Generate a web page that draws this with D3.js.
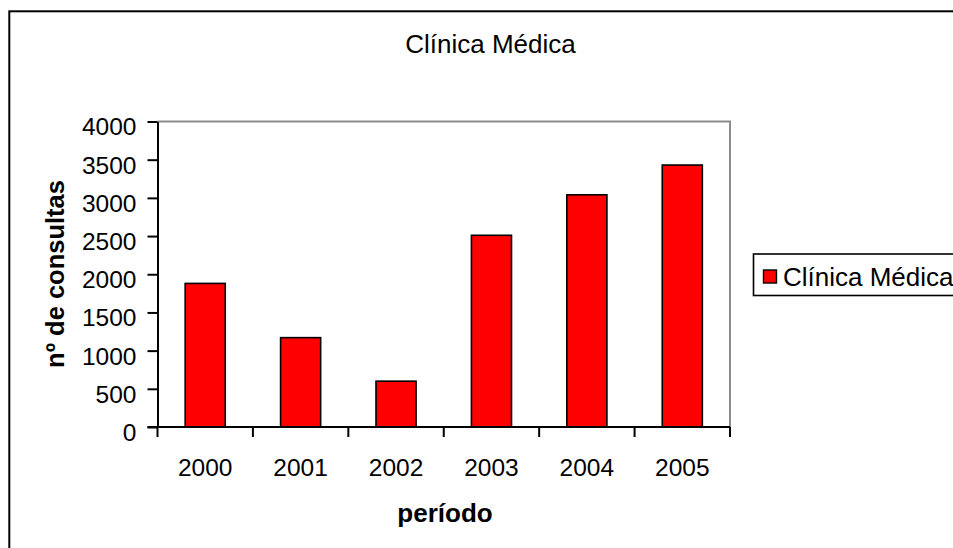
<!DOCTYPE html>
<html>
<head>
<meta charset="utf-8">
<script src="https://cdn.jsdelivr.net/npm/d3@7"></script>
<style>
  html, body { margin: 0; padding: 0; background: #fff; overflow: hidden; }
  svg { display: block; font-family: "Liberation Sans", Arial, sans-serif; }
</style>
</head>
<body>
<svg id="chart" width="953" height="548"></svg>
<script>
// Consultations per year, Clínica Médica
const periods = ["2000", "2001", "2002", "2003", "2004", "2005"];
const consultas = [1880, 1170, 600, 2510, 3040, 3430];
const yTicks = [0, 500, 1000, 1500, 2000, 2500, 3000, 3500, 4000];
const seriesName = "Clínica Médica";
const chartTitle = "Clínica Médica";
const xTitle = "período";
const yTitle = "nº de consultas";

const svg = d3.select("#chart");
const tickFont = 24.5;
const textFont = 26;

// outer chart frame (extends past the right/bottom edges of the view)
svg.append("rect")
  .attr("x", 9.3).attr("y", 11.3)
  .attr("width", 1000).attr("height", 600)
  .attr("fill", "#fff").attr("stroke", "#000").attr("stroke-width", 2);

const plot = { left: 157.5, right: 730, top: 121.5, bottom: 427 };

const x = d3.scaleBand()
  .domain(periods)
  .range([plot.left, plot.right])
  .paddingInner(0.58).paddingOuter(0.29);

const y = d3.scaleLinear()
  .domain([0, 4000])
  .range([plot.bottom, plot.top]);

// plot area top/right border in grey
svg.append("path")
  .attr("d", `M${plot.left},${plot.top}H${plot.right}V${plot.bottom}`)
  .attr("fill", "none").attr("stroke", "#8c8c8c").attr("stroke-width", 2);

// bars
svg.append("g").selectAll("rect")
  .data(periods.map((p, i) => ({ p, v: consultas[i] })))
  .join("rect")
  .attr("x", d => x(d.p))
  .attr("y", d => y(d.v))
  .attr("width", x.bandwidth())
  .attr("height", d => y(0) - y(d.v))
  .attr("fill", "#ff0000")
  .attr("stroke", "#000").attr("stroke-width", 1.6);

// y axis
const yAxis = svg.append("g")
  .attr("transform", `translate(${plot.left},0)`)
  .call(d3.axisLeft(y).tickValues(yTicks).tickFormat(d3.format("d"))
    .tickSizeInner(10).tickSizeOuter(0).tickPadding(11));
yAxis.select(".domain").attr("stroke", "#000").attr("stroke-width", 2);
yAxis.selectAll(".tick line").attr("stroke", "#000").attr("stroke-width", 2);
yAxis.selectAll(".tick text")
  .attr("font-size", tickFont).attr("font-family", "Liberation Sans, Arial, sans-serif")
  .attr("fill", "#000").attr("dy", "0.55em");

// x axis: ticks sit on the category boundaries
const xAxis = svg.append("g")
  .attr("transform", `translate(0,${plot.bottom})`);
xAxis.append("line")
  .attr("x1", plot.left - 10).attr("x2", plot.right)
  .attr("stroke", "#000").attr("stroke-width", 2);
const boundaries = d3.range(periods.length + 1).map(i => plot.left + i * (plot.right - plot.left) / periods.length);
xAxis.selectAll("line.tk")
  .data(boundaries)
  .join("line").attr("class", "tk")
  .attr("x1", d => d).attr("x2", d => d)
  .attr("y1", 0).attr("y2", 10)
  .attr("stroke", "#000").attr("stroke-width", 2);
xAxis.selectAll("text")
  .data(periods)
  .join("text")
  .attr("x", d => x(d) + x.bandwidth() / 2)
  .attr("y", 49)
  .attr("text-anchor", "middle")
  .attr("font-size", tickFont)
  .attr("fill", "#000")
  .text(d => d);

// title
svg.append("text")
  .attr("x", 490.5).attr("y", 53)
  .attr("text-anchor", "middle")
  .attr("font-size", textFont)
  .attr("fill", "#000")
  .text(chartTitle);

// axis titles
svg.append("text")
  .attr("x", 445).attr("y", 522)
  .attr("text-anchor", "middle")
  .attr("font-size", textFont).attr("font-weight", "bold")
  .attr("fill", "#000")
  .text(xTitle);

svg.append("text")
  .attr("transform", "translate(63.5,274) rotate(-90)")
  .attr("text-anchor", "middle")
  .attr("font-size", 25.5).attr("font-weight", "bold")
  .attr("fill", "#000")
  .text(yTitle);

// legend
const legend = svg.append("g");
legend.append("rect")
  .attr("x", 753.5).attr("y", 254)
  .attr("width", 300).attr("height", 41.5)
  .attr("fill", "#fff").attr("stroke", "#000").attr("stroke-width", 1.6);
legend.append("rect")
  .attr("x", 763.5).attr("y", 270)
  .attr("width", 13).attr("height", 13)
  .attr("fill", "#ff0000").attr("stroke", "#000").attr("stroke-width", 1.4);
legend.append("text")
  .attr("x", 783).attr("y", 285.5)
  .attr("font-size", textFont)
  .attr("fill", "#000")
  .text(seriesName);
</script>
</body>
</html>
